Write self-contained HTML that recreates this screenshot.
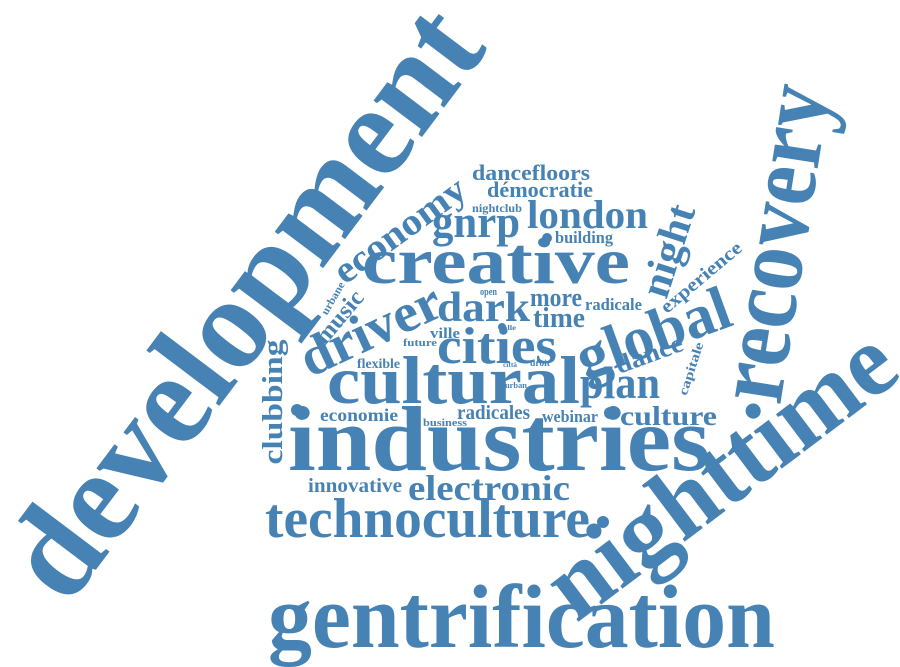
<!DOCTYPE html>
<html><head><meta charset="utf-8"><style>
html,body{margin:0;padding:0;background:#fff;width:900px;height:667px;overflow:hidden}
svg{display:block}
text{font-family:"Liberation Serif",serif;font-weight:bold;fill:#4682b4}
</style></head><body>
<svg width="900" height="667" viewBox="0 0 900 667">
<g>
<text x="278" y="328" font-size="132" text-anchor="middle" textLength="700" lengthAdjust="spacingAndGlyphs" transform="rotate(-53 278 328)">development</text>
<text x="740" y="500" font-size="102" text-anchor="middle" textLength="410" lengthAdjust="spacingAndGlyphs" transform="rotate(-37 740 500)">nighttime</text>
<text x="805" y="248" font-size="100" text-anchor="middle" textLength="320" lengthAdjust="spacingAndGlyphs" transform="rotate(-81 805 248)">recovery</text>
<text x="407" y="240" font-size="38" text-anchor="middle" textLength="154" lengthAdjust="spacingAndGlyphs" transform="rotate(-36 407 240)">economy</text>
<text x="378" y="346" font-size="55" text-anchor="middle" textLength="150" lengthAdjust="spacingAndGlyphs" transform="rotate(-25 378 346)">driver</text>
<text x="345" y="322" font-size="24" text-anchor="middle" textLength="62" lengthAdjust="spacingAndGlyphs" transform="rotate(-50 345 322)">music</text>
<text x="336" y="300" font-size="11" text-anchor="middle" textLength="36" lengthAdjust="spacingAndGlyphs" transform="rotate(-60 336 300)">urbane</text>
<text x="681" y="255" font-size="42" text-anchor="middle" textLength="95" lengthAdjust="spacingAndGlyphs" transform="rotate(-72 681 255)">night</text>
<text x="705" y="282" font-size="19" text-anchor="middle" textLength="100" lengthAdjust="spacingAndGlyphs" transform="rotate(-40 705 282)">experience</text>
<text x="660" y="352" font-size="62" text-anchor="middle" textLength="160" lengthAdjust="spacingAndGlyphs" transform="rotate(-20 660 352)">global</text>
<text x="652" y="362" font-size="26" text-anchor="middle" textLength="70" lengthAdjust="spacingAndGlyphs" transform="rotate(-20 652 362)">dance</text>
<text x="695" y="370" font-size="13" text-anchor="middle" textLength="55" lengthAdjust="spacingAndGlyphs" transform="rotate(-72 695 370)">capitale</text>
<text x="282" y="402" font-size="28" text-anchor="middle" textLength="125" lengthAdjust="spacingAndGlyphs" transform="rotate(-90 282 402)">clubbing</text>
</g>
<g>
<text x="268" y="647" font-size="90" textLength="507" lengthAdjust="spacingAndGlyphs">gentrification</text>
<text x="288" y="470" font-size="92" textLength="422" lengthAdjust="spacingAndGlyphs">industries</text>
<text x="265" y="537" font-size="56" textLength="325" lengthAdjust="spacingAndGlyphs">technoculture</text>
<text x="408" y="500" font-size="36" textLength="162" lengthAdjust="spacingAndGlyphs">electronic</text>
<text x="308" y="492" font-size="20" textLength="94" lengthAdjust="spacingAndGlyphs">innovative</text>
<text x="472" y="180" font-size="22" textLength="118" lengthAdjust="spacingAndGlyphs">dancefloors</text>
<text x="487" y="197" font-size="22" textLength="106" lengthAdjust="spacingAndGlyphs">démocratie</text>
<text x="472" y="212" font-size="12" textLength="50" lengthAdjust="spacingAndGlyphs">nightclub</text>
<text x="527" y="228" font-size="40" textLength="121" lengthAdjust="spacingAndGlyphs">london</text>
<text x="432" y="237" font-size="46" textLength="88" lengthAdjust="spacingAndGlyphs">gnrp</text>
<text x="555" y="243" font-size="17" textLength="58" lengthAdjust="spacingAndGlyphs">building</text>
<text x="362" y="283" font-size="66" textLength="268" lengthAdjust="spacingAndGlyphs">creative</text>
<text x="480" y="295" font-size="10" textLength="17" lengthAdjust="spacingAndGlyphs">open</text>
<text x="437" y="321" font-size="42" textLength="93" lengthAdjust="spacingAndGlyphs">dark</text>
<text x="530" y="306" font-size="26" textLength="52" lengthAdjust="spacingAndGlyphs">more</text>
<text x="533" y="327" font-size="28" textLength="52" lengthAdjust="spacingAndGlyphs">time</text>
<text x="585" y="310" font-size="17" textLength="57" lengthAdjust="spacingAndGlyphs">radicale</text>
<text x="430" y="338" font-size="15" textLength="30" lengthAdjust="spacingAndGlyphs">ville</text>
<text x="503" y="330" font-size="7" textLength="13" lengthAdjust="spacingAndGlyphs">alle</text>
<text x="437" y="363" font-size="52" textLength="120" lengthAdjust="spacingAndGlyphs">cities</text>
<text x="403" y="346" font-size="11" textLength="34" lengthAdjust="spacingAndGlyphs">future</text>
<text x="357" y="368" font-size="14" textLength="43" lengthAdjust="spacingAndGlyphs">flexible</text>
<text x="503" y="367" font-size="7" textLength="14" lengthAdjust="spacingAndGlyphs">città</text>
<text x="530" y="366" font-size="9" textLength="20" lengthAdjust="spacingAndGlyphs">droit</text>
<text x="327" y="403" font-size="68" textLength="253" lengthAdjust="spacingAndGlyphs">cultural</text>
<text x="505" y="388" font-size="8" textLength="22" lengthAdjust="spacingAndGlyphs">urban</text>
<text x="580" y="398" font-size="45" textLength="80" lengthAdjust="spacingAndGlyphs">plan</text>
<text x="320" y="421" font-size="18" textLength="78" lengthAdjust="spacingAndGlyphs">economie</text>
<text x="457" y="419" font-size="20" textLength="73" lengthAdjust="spacingAndGlyphs">radicales</text>
<text x="423" y="426" font-size="11" textLength="44" lengthAdjust="spacingAndGlyphs">business</text>
<text x="542" y="422" font-size="17" textLength="56" lengthAdjust="spacingAndGlyphs">webinar</text>
<text x="620" y="425" font-size="27" textLength="97" lengthAdjust="spacingAndGlyphs">culture</text>
</g>
<g fill="#4682b4">
<circle cx="547" cy="238" r="5"/>
<circle cx="502" cy="327" r="4"/>
<circle cx="297" cy="410" r="6"/>
<circle cx="610" cy="413" r="6"/>
<circle cx="603" cy="522" r="6"/>
</g>
</svg>
</body></html>
